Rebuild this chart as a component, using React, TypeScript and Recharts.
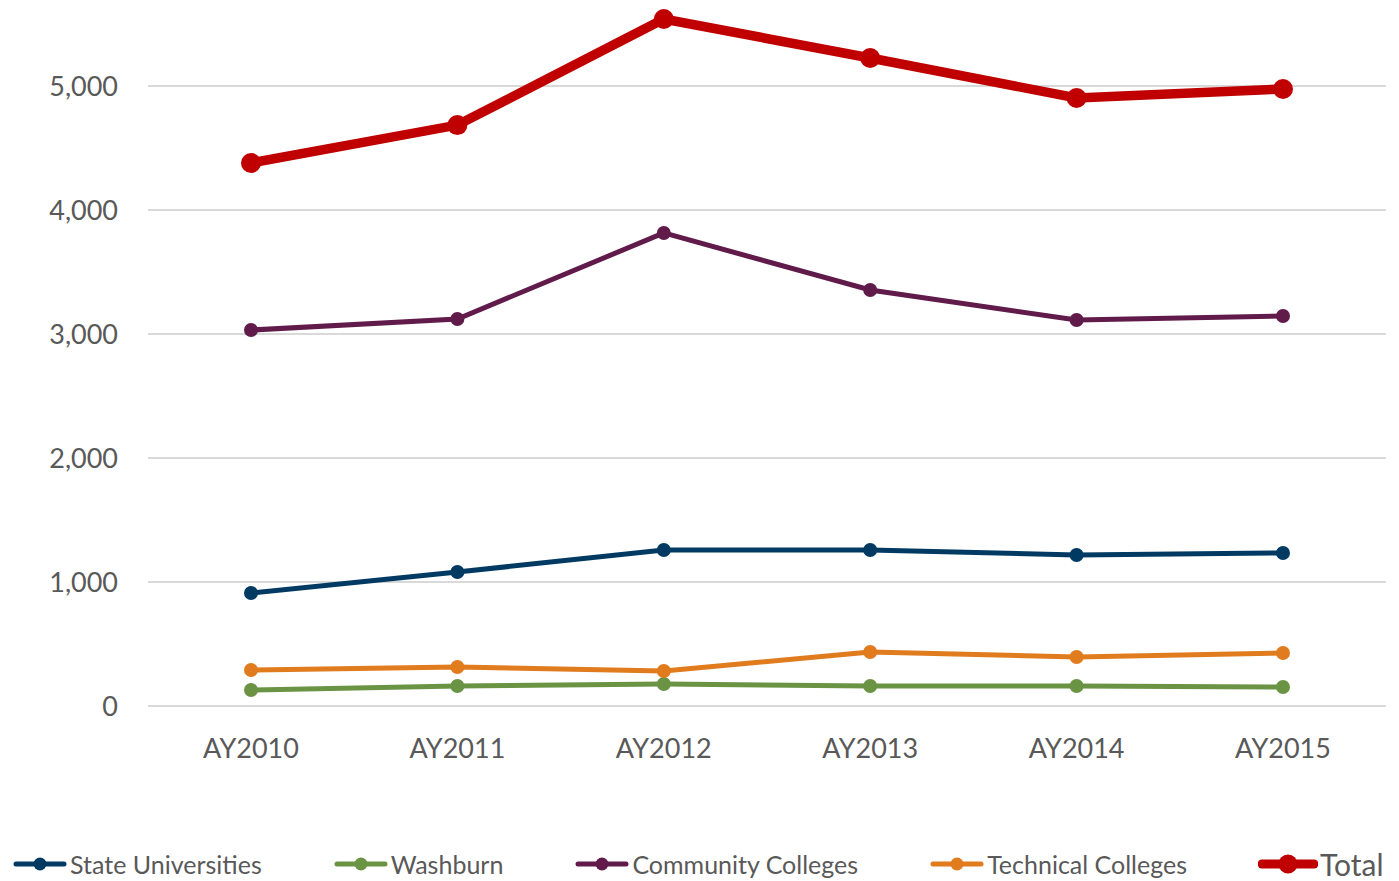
import { CartesianGrid, Legend, Line, LineChart, XAxis, YAxis } from "recharts";

// Academic years on the x axis, one point per year for every sector.
const years = ["AY2010", "AY2011", "AY2012", "AY2013", "AY2014", "AY2015"];

const stateUniversities = [911, 1081, 1258, 1258, 1218, 1234];
const washburn = [129, 161, 177, 161, 161, 153];
const communityColleges = [3032, 3121, 3815, 3355, 3113, 3145];
const technicalColleges = [290, 315, 282, 435, 395, 427];
const total = [4379, 4685, 5540, 5226, 4903, 4976];

const yTicks = [0, 1000, 2000, 3000, 4000, 5000];

type Series = {
  key: string;
  name: string;
  values: number[];
  color: string;
  width: number;
  r: number;
};

const SERIES: Series[] = [
  { key: "state", name: "State Universities", values: stateUniversities, color: "#003A63", width: 5, r: 7 },
  { key: "washburn", name: "Washburn", values: washburn, color: "#6A9444", width: 5, r: 7 },
  { key: "community", name: "Community Colleges", values: communityColleges, color: "#611B4B", width: 5, r: 7 },
  { key: "technical", name: "Technical Colleges", values: technicalColleges, color: "#E07B1E", width: 5, r: 7 },
  { key: "total", name: "Total", values: total, color: "#C00000", width: 9.5, r: 10 },
];

const rows = years.map((year, i) => {
  const row: Record<string, string | number> = { year };
  SERIES.forEach((s) => {
    row[s.key] = s.values[i];
  });
  return row;
});

const FONT = "Lato, 'Open Sans', sans-serif";
const TEXT = "#595959";

// Excel-style legend: short line with a dot through it, then the label.
function LegendRow() {
  return (
    <div
      style={{
        height: 40,
        boxSizing: "border-box",
        paddingBottom: 3,
        display: "flex",
        alignItems: "flex-end",
        gap: 71,
        paddingLeft: 12,
        fontFamily: FONT,
        color: TEXT,
      }}
    >
      {SERIES.map((s) => {
        const big = s.key === "total";
        const w = big ? 60 : 56;
        return (
          <div key={s.key} style={{ display: "flex", alignItems: "center", height: 28 }}>
            <svg width={w} height={22} style={{ marginRight: 2 }}>
              <line x1={4} y1={11} x2={w - 4} y2={11} stroke={s.color} strokeWidth={big ? 9 : 5} strokeLinecap="round" />
              <circle cx={w / 2} cy={11} r={big ? 9.5 : 6.5} fill={s.color} />
            </svg>
            <span style={{ fontSize: big ? 30 : 25, lineHeight: 1, whiteSpace: "nowrap" }}>{s.name}</span>
          </div>
        );
      })}
    </div>
  );
}

export default function App() {
  return (
    // Shifted up so the plot's 6,000 ceiling sits just above the page edge.
    <div style={{ position: "absolute", left: 0, top: -38, width: 1399, height: 919, background: "#fff" }}>
      <LineChart width={1399} height={919} data={rows} margin={{ top: 0, right: 13, bottom: 0, left: 0 }}>
        <CartesianGrid horizontal vertical={false} stroke="#D9D9D9" strokeWidth={2} />
        <XAxis
          dataKey="year"
          height={135}
          padding={{ left: 103, right: 103 }}
          axisLine={false}
          tickLine={false}
          tickSize={0}
          tickMargin={33}
          tick={{ fill: TEXT, fontSize: 27, fontFamily: FONT }}
        />
        <YAxis
          width={148}
          domain={[0, 6000]}
          ticks={yTicks}
          axisLine={false}
          tickLine={false}
          tickSize={0}
          tickMargin={30}
          tickFormatter={(v: number) => v.toLocaleString("en-US")}
          tick={{ fill: TEXT, fontSize: 27, fontFamily: FONT }}
        />
        <Legend verticalAlign="bottom" content={() => <LegendRow />} />
        {SERIES.map((s) => (
          <Line
            key={s.key}
            dataKey={s.key}
            name={s.name}
            stroke={s.color}
            strokeWidth={s.width}
            dot={{ r: s.r, fill: s.color, stroke: s.color, strokeWidth: 0 }}
            activeDot={false}
            isAnimationActive={false}
          />
        ))}
      </LineChart>
    </div>
  );
}
